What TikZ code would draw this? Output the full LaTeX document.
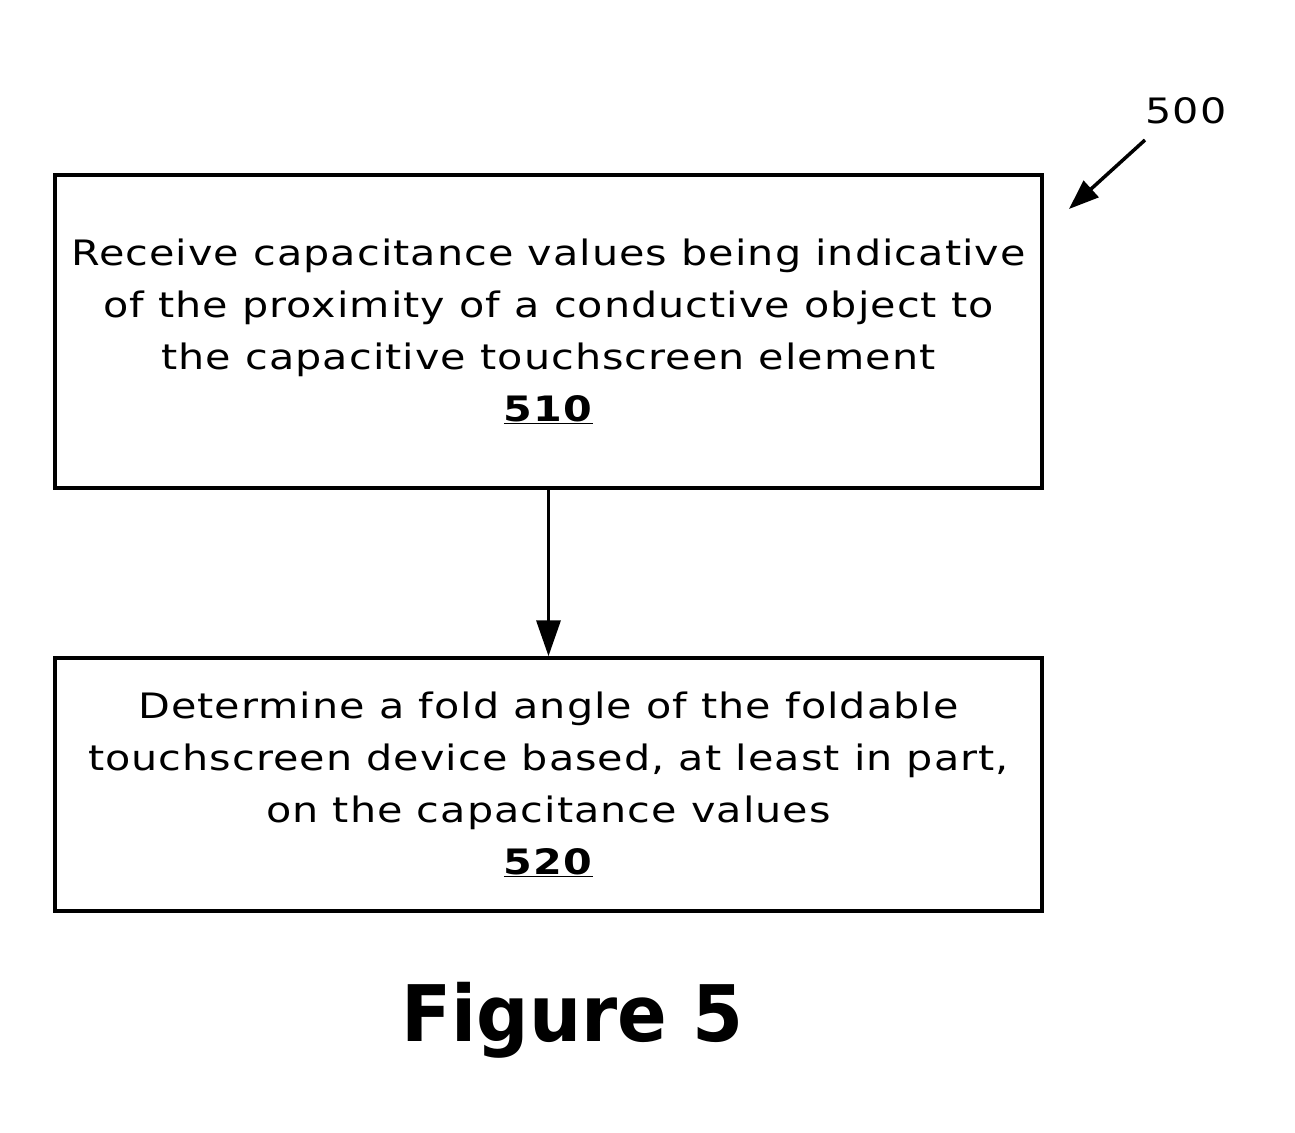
\documentclass[tikz,border=0pt]{standalone}
\usepackage{fontspec}
\setmainfont{DejaVu Sans}
\newfontfamily\bodyfont[FakeStretch=1.18,LetterSpace=3]{DejaVu Sans}
\newfontfamily\figfont[FakeStretch=0.94]{DejaVu Sans}
\usetikzlibrary{arrows.meta}
\begin{document}
\begin{tikzpicture}[x=1pt,y=-1pt,
  stepbox/.style={draw,line width=3.5pt,minimum width=987pt,align=center,inner sep=0pt,
    font=\bodyfont\fontsize{35}{52}\selectfont},
  conn/.style={line width=3.5pt,-{Triangle[length=36pt,width=24pt]}}]
\useasboundingbox (0,0) rectangle (1295,1132);
\node[stepbox,minimum height=313pt] (b1) at (548.5,331.5)
  {Receive capacitance values being indicative\\of the proximity of a conductive object to\\the capacitive touchscreen element\\\underline{\textbf{510}}};
\node[stepbox,minimum height=253pt] (b2) at (548.5,784.5)
  {Determine a fold angle of the foldable\\touchscreen device based, at least in part,\\on the capacitance values\\\underline{\textbf{520}}};
\draw[conn] (b1.south) -- (b2.north);
\node[font=\bodyfont\fontsize{35}{44}\selectfont] (ref) at (1186,111) {500};
\coordinate (refs) at (1145,140);
\coordinate (refe) at (1069,209);
\draw[line width=3.5pt,-{Triangle[length=30pt,width=22pt]}] (refs) -- (refe);
\node[font=\figfont\bfseries\fontsize{78}{90}\selectfont] (fig) at (572.5,1020) {Figure 5};
\end{tikzpicture}
\end{document}
